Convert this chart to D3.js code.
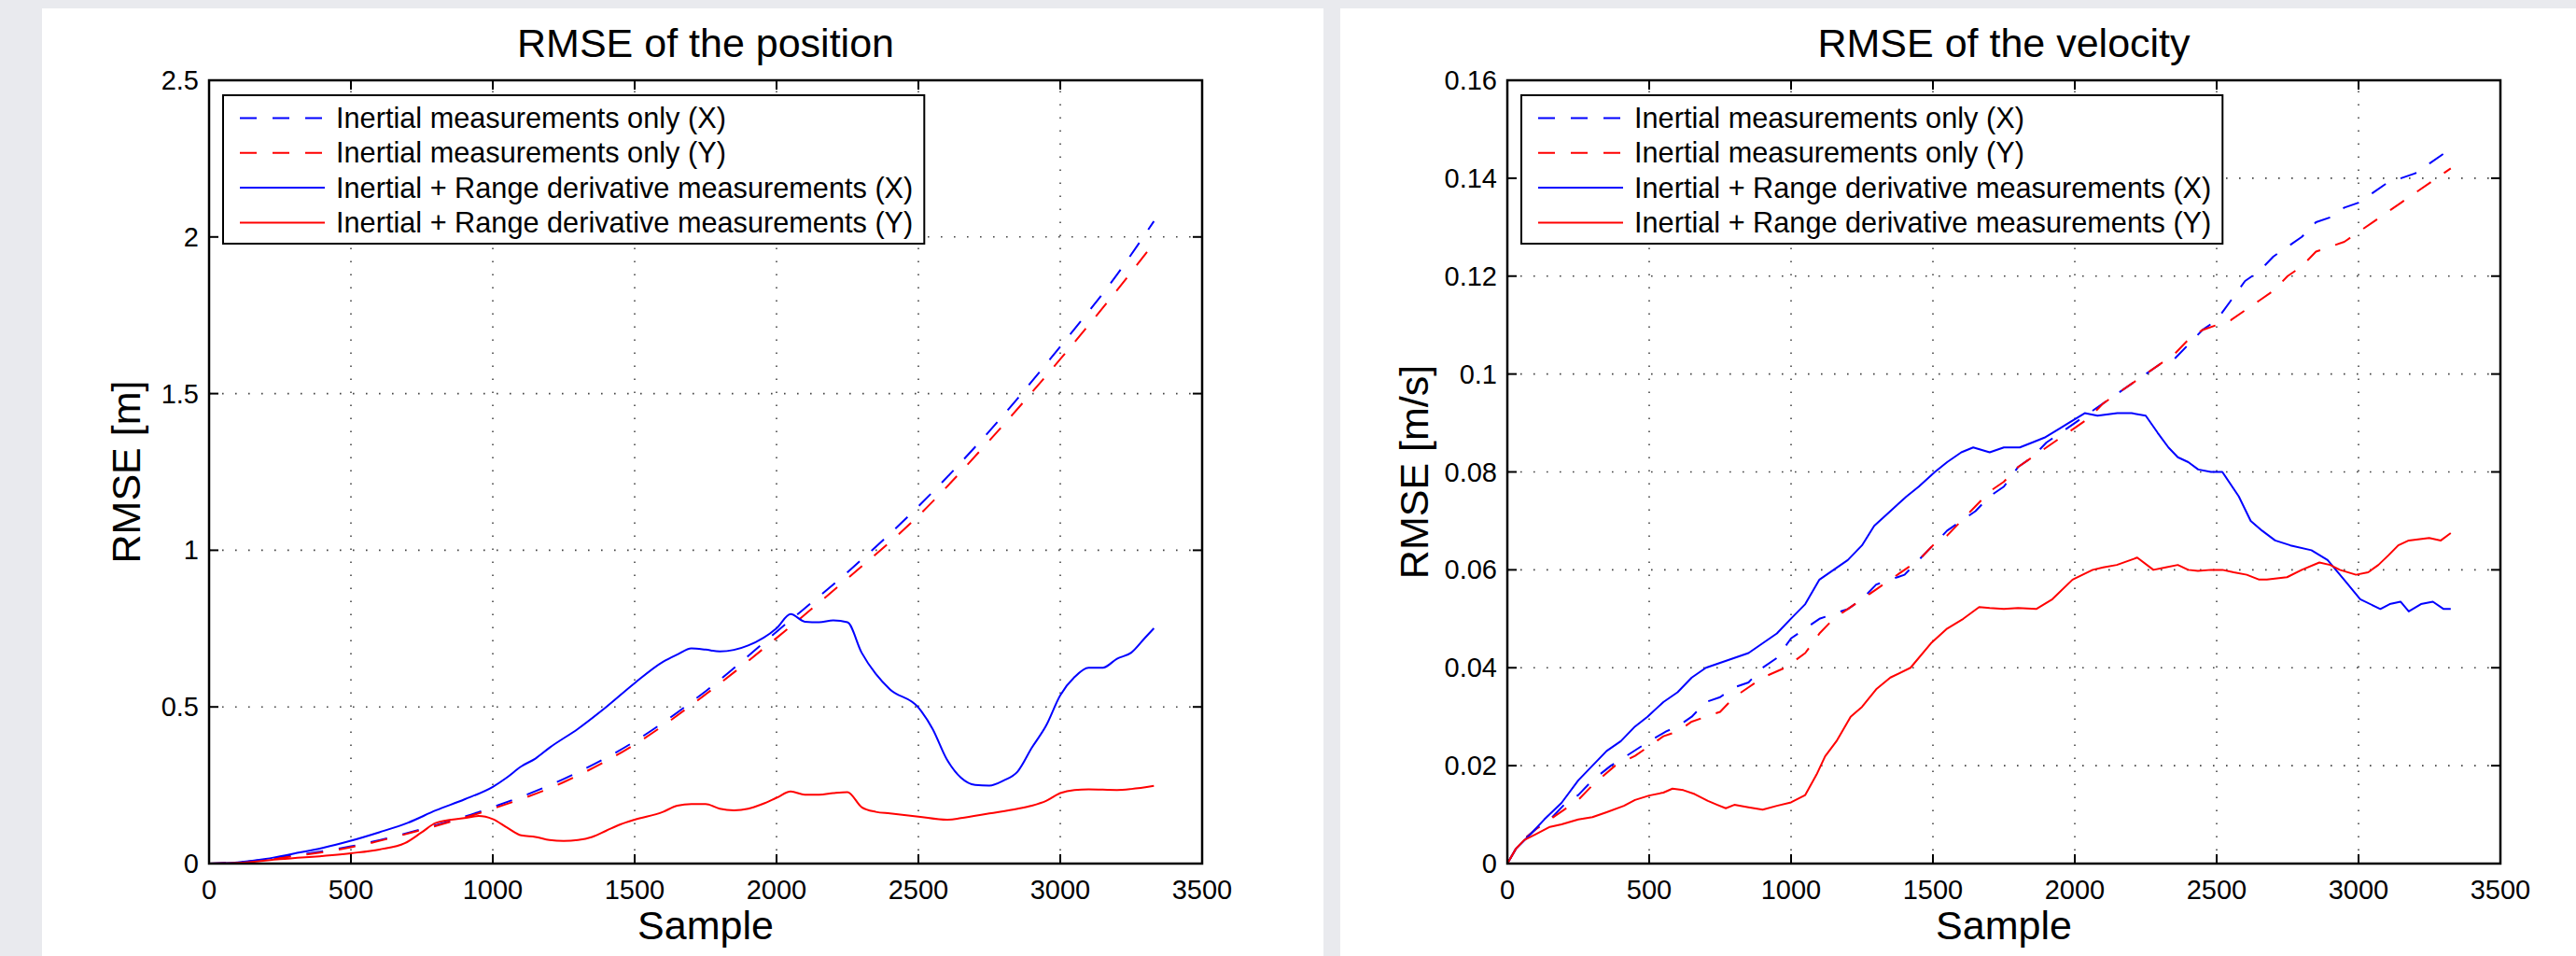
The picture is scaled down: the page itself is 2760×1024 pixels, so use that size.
<!DOCTYPE html>
<html lang="en">
<head>
  <meta charset="utf-8">
  <title>RMSE of position and velocity</title>
  <script src="https://d3js.org/d3.v7.min.js"></script>
  <style>
    html, body {
      margin: 0;
      padding: 0;
      background: #e9eaee;
      font-family: "Liberation Sans", Arial, Helvetica, sans-serif;
    }
    svg { display: block; }
    .frame { fill: none; stroke: #000; stroke-width: 2.5; }
    .grid line { stroke: #444; stroke-width: 1.6; stroke-dasharray: 1.6 12.4; }
    .tick-mark { stroke: #000; stroke-width: 2; }
    .tick-label { font-size: 29px; fill: #000; }
    .title, .axis-label { font-size: 43px; fill: #000; }
    .legend-box { fill: #fff; stroke: #000; stroke-width: 2; }
    .legend-text { font-size: 30.7px; fill: #000; }
    .series { fill: none; stroke-width: 2; stroke-linejoin: round; }
  </style>
</head>
<body>
<svg id="chart" width="2760" height="1024"></svg>
<script>
// ---- data ----
const xTicks = [0, 500, 1000, 1500, 2000, 2500, 3000, 3500];
const xTickLabels = ['0', '500', '1000', '1500', '2000', '2500', '3000', '3500'];

const posTicks = [0, 0.5, 1, 1.5, 2, 2.5];
const posTickLabels = ['0', '0.5', '1', '1.5', '2', '2.5'];
const velTicks = [0, 0.02, 0.04, 0.06, 0.08, 0.1, 0.12, 0.14, 0.16];
const velTickLabels = ['0', '0.02', '0.04', '0.06', '0.08', '0.1', '0.12', '0.14', '0.16'];

const legendLabels = [
  'Inertial measurements only (X)',
  'Inertial measurements only (Y)',
  'Inertial + Range derivative measurements (X)',
  'Inertial + Range derivative measurements (Y)'
];

// position RMSE [m] : [sample, value]
const posInertialX = [[0,0],[100,0.003],[250,0.02],[500,0.055],[750,0.11],[1000,0.18],[1250,0.27],[1500,0.39],
  [1750,0.55],[2000,0.74],[2250,0.93],[2500,1.14],[2750,1.38],[3000,1.65],[3200,1.88],[3330,2.05]];
const posInertialY = [[0,0],[100,0.003],[250,0.018],[500,0.052],[750,0.108],[1000,0.175],[1250,0.26],[1500,0.38],
  [1750,0.54],[2000,0.72],[2250,0.91],[2500,1.11],[2750,1.35],[3000,1.61],[3200,1.83],[3330,1.98]];
const posRangeX = [[0,0],[100,0.004],[200,0.015],[300,0.032],[400,0.05],[500,0.073],[600,0.1],[700,0.13],
  [800,0.17],[900,0.205],[1000,0.245],[1050,0.275],[1100,0.31],[1150,0.335],[1200,0.37],
  [1300,0.43],[1400,0.5],[1500,0.576],[1600,0.644],[1650,0.667],[1700,0.687],[1750,0.683],[1800,0.677],
  [1900,0.696],[2000,0.751],[2050,0.796],[2100,0.772],[2150,0.77],[2200,0.776],[2250,0.77],[2300,0.673],
  [2350,0.605],[2400,0.556],[2500,0.498],[2550,0.43],[2600,0.333],[2650,0.274],[2700,0.251],[2750,0.249],
  [2800,0.265],[2850,0.294],[2900,0.37],[2950,0.44],[3000,0.537],[3050,0.595],[3100,0.625],[3150,0.625],
  [3200,0.654],[3250,0.673],[3300,0.722],[3330,0.751]];
const posRangeY = [[0,0],[100,0.002],[250,0.014],[500,0.033],[600,0.045],[690,0.065],[750,0.1],[800,0.13],
  [900,0.145],[950,0.152],[1000,0.142],[1050,0.115],[1100,0.09],[1150,0.085],[1200,0.075],[1250,0.072],
  [1300,0.075],[1350,0.085],[1400,0.105],[1450,0.125],[1500,0.14],[1600,0.165],[1650,0.185],[1700,0.19],
  [1750,0.19],[1800,0.175],[1850,0.17],[1900,0.175],[1950,0.19],[2000,0.21],[2050,0.23],[2100,0.22],
  [2150,0.22],[2200,0.225],[2250,0.228],[2300,0.18],[2350,0.165],[2400,0.16],[2500,0.15],[2600,0.14],
  [2650,0.145],[2750,0.16],[2850,0.175],[2900,0.185],[2950,0.2],[3000,0.225],[3050,0.235],[3100,0.237],
  [3200,0.235],[3250,0.238],[3330,0.248]];

// velocity RMSE [m/s] : [sample, value]
const velInertialX = [[0,0],[30,0.003],[60,0.005],[100,0.007],[150,0.009],[200,0.012],[250,0.014],[300,0.017],
  [365,0.02],[420,0.022],[500,0.025],[560,0.027],[600,0.028],[650,0.03],[700,0.033],[750,0.034],[800,0.036],
  [850,0.037],[900,0.04],[950,0.042],[1000,0.046],[1050,0.048],[1100,0.05],[1150,0.051],[1200,0.052],
  [1250,0.054],[1300,0.057],[1350,0.058],[1400,0.059],[1450,0.062],[1500,0.065],[1550,0.068],[1600,0.07],
  [1650,0.072],[1700,0.075],[1750,0.077],[1800,0.081],[1850,0.083],[1900,0.086],[1950,0.088],[2000,0.09],
  [2050,0.092],[2100,0.094],[2150,0.096],[2200,0.098],[2250,0.1],[2300,0.102],[2350,0.103],[2400,0.106],
  [2450,0.109],[2500,0.111],[2550,0.115],[2600,0.119],[2650,0.121],[2700,0.124],[2750,0.126],[2800,0.128],
  [2850,0.131],[2900,0.132],[2950,0.134],[3000,0.135],[3050,0.137],[3100,0.139],[3150,0.14],[3200,0.141],
  [3250,0.143],[3300,0.145],[3325,0.1475]];
const velInertialY = [[0,0],[30,0.003],[60,0.005],[100,0.007],[150,0.009],[200,0.011],[250,0.013],[300,0.016],
  [380,0.02],[450,0.022],[500,0.024],[550,0.026],[600,0.027],[650,0.029],[700,0.03],[750,0.031],[800,0.034],
  [850,0.036],[900,0.038],[979,0.04],[1050,0.043],[1100,0.047],[1150,0.05],[1200,0.052],[1250,0.054],
  [1300,0.056],[1350,0.058],[1400,0.06],[1450,0.062],[1500,0.065],[1550,0.067],[1600,0.07],[1650,0.073],
  [1700,0.076],[1750,0.078],[1800,0.081],[1850,0.083],[1900,0.085],[1950,0.087],[2000,0.089],[2050,0.091],
  [2100,0.094],[2150,0.096],[2200,0.098],[2250,0.1],[2300,0.102],[2350,0.104],[2400,0.107],[2450,0.109],
  [2500,0.11],[2550,0.111],[2600,0.113],[2650,0.115],[2700,0.117],[2750,0.12],[2800,0.122],[2850,0.125],
  [2900,0.126],[2950,0.127],[3000,0.129],[3050,0.131],[3100,0.133],[3150,0.135],[3200,0.137],[3250,0.139],
  [3300,0.141],[3325,0.142]];
const velRangeX = [[0,0],[30,0.003],[82,0.006],[130,0.009],[191,0.0124],[250,0.017],[300,0.02],[350,0.023],
  [400,0.025],[450,0.028],[494,0.03],[550,0.033],[600,0.035],[650,0.038],[700,0.04],[750,0.041],[800,0.042],
  [850,0.043],[900,0.045],[950,0.047],[999,0.05],[1050,0.053],[1100,0.058],[1150,0.06],[1200,0.062],
  [1250,0.065],[1293,0.069],[1350,0.072],[1407,0.075],[1450,0.077],[1507,0.08],[1550,0.082],[1600,0.084],
  [1642,0.085],[1700,0.084],[1750,0.085],[1806,0.085],[1850,0.086],[1893,0.087],[1950,0.089],[1978,0.09],
  [2035,0.092],[2080,0.0915],[2150,0.092],[2200,0.092],[2250,0.0915],[2292,0.088],[2330,0.085],[2363,0.083],
  [2400,0.082],[2435,0.0805],[2480,0.08],[2520,0.08],[2578,0.075],[2620,0.07],[2660,0.068],[2706,0.066],
  [2760,0.065],[2834,0.064],[2891,0.062],[2949,0.058],[3006,0.054],[3077,0.052],[3110,0.053],[3148,0.0535],
  [3177,0.0515],[3220,0.053],[3262,0.0535],[3300,0.052],[3325,0.052]];
const velRangeY = [[0,0],[30,0.003],[59,0.0048],[100,0.006],[150,0.0075],[191,0.008],[250,0.009],[300,0.0095],
  [350,0.0105],[411,0.0118],[450,0.013],[500,0.0139],[550,0.0145],[582,0.0153],[620,0.015],[660,0.0142],
  [707,0.0128],[740,0.012],[770,0.0113],[800,0.012],[850,0.0115],[900,0.011],[950,0.0118],[1000,0.0125],
  [1050,0.014],[1090,0.0182],[1120,0.0219],[1160,0.025],[1210,0.03],[1250,0.032],[1300,0.0356],[1350,0.038],
  [1421,0.04],[1493,0.045],[1550,0.048],[1607,0.05],[1663,0.0524],[1700,0.0522],[1750,0.052],[1800,0.0522],
  [1864,0.052],[1921,0.054],[1992,0.058],[2063,0.06],[2100,0.0605],[2148,0.061],[2220,0.0625],[2277,0.06],
  [2320,0.0605],[2363,0.061],[2400,0.06],[2434,0.0598],[2480,0.06],[2520,0.06],[2560,0.0595],[2606,0.059],
  [2650,0.058],[2677,0.058],[2748,0.0585],[2800,0.06],[2862,0.0615],[2900,0.061],[2934,0.06],[2991,0.059],
  [3034,0.0595],[3070,0.061],[3106,0.063],[3140,0.065],[3177,0.066],[3249,0.0665],[3290,0.066],[3325,0.0675]];

const seriesStyles = [
  { color: '#0000ff', dash: '18 17' },
  { color: '#ff0000', dash: '18 17' },
  { color: '#0000ff', dash: null },
  { color: '#ff0000', dash: null }
];

const svg = d3.select('#chart');

function drawPanel(cfg) {
  // white figure background
  svg.append('rect')
    .attr('x', cfg.panel[0]).attr('y', 9)
    .attr('width', cfg.panel[1] - cfg.panel[0]).attr('height', 1024 - 9)
    .attr('fill', '#fff');

  const left = cfg.plotLeft, right = left + 1064, top = 86, bottom = 925;
  const x = d3.scaleLinear().domain([0, 3500]).range([left, right]);
  const y = d3.scaleLinear().domain(cfg.yDomain).range([bottom, top]);
  const g = svg.append('g');

  // dotted grid
  const grid = g.append('g').attr('class', 'grid');
  grid.selectAll('.gx').data(xTicks.slice(1, -1)).enter().append('line')
    .attr('x1', d => x(d)).attr('x2', d => x(d)).attr('y1', bottom).attr('y2', top);
  grid.selectAll('.gy').data(cfg.yTicks.slice(1, -1)).enter().append('line')
    .attr('x1', left).attr('x2', right).attr('y1', d => y(d)).attr('y2', d => y(d));

  // series
  const line = d3.line().x(d => x(d[0])).y(d => y(d[1])).curve(cfg.curve);
  cfg.series.forEach((s, i) => {
    g.append('path').datum(s)
      .attr('class', 'series')
      .attr('stroke', seriesStyles[i].color)
      .attr('stroke-dasharray', seriesStyles[i].dash)
      .attr('d', line);
  });

  // inner ticks on all four sides
  const tl = 10;
  xTicks.forEach(t => {
    g.append('line').attr('class', 'tick-mark').attr('x1', x(t)).attr('x2', x(t)).attr('y1', bottom).attr('y2', bottom - tl);
    g.append('line').attr('class', 'tick-mark').attr('x1', x(t)).attr('x2', x(t)).attr('y1', top).attr('y2', top + tl);
  });
  cfg.yTicks.forEach(t => {
    g.append('line').attr('class', 'tick-mark').attr('x1', left).attr('x2', left + tl).attr('y1', y(t)).attr('y2', y(t));
    g.append('line').attr('class', 'tick-mark').attr('x1', right).attr('x2', right - tl).attr('y1', y(t)).attr('y2', y(t));
  });

  g.append('rect').attr('class', 'frame')
    .attr('x', left).attr('y', top).attr('width', right - left).attr('height', bottom - top);

  // tick labels
  g.selectAll('.xl').data(xTicks).enter().append('text')
    .attr('class', 'tick-label')
    .attr('x', d => x(d)).attr('y', 963)
    .attr('text-anchor', 'middle')
    .text((d, i) => xTickLabels[i]);
  g.selectAll('.yl').data(cfg.yTicks).enter().append('text')
    .attr('class', 'tick-label')
    .attr('x', left - 11).attr('y', d => y(d) + 10)
    .attr('text-anchor', 'end')
    .text((d, i) => cfg.yTickLabels[i]);

  // title and axis labels
  g.append('text').attr('class', 'title')
    .attr('x', (left + right) / 2).attr('y', 61)
    .attr('text-anchor', 'middle').text(cfg.title);
  g.append('text').attr('class', 'axis-label')
    .attr('x', (left + right) / 2).attr('y', 1006)
    .attr('text-anchor', 'middle').text('Sample');
  g.append('text').attr('class', 'axis-label')
    .attr('transform', `translate(${cfg.yLabelX},${(top + bottom) / 2}) rotate(-90)`)
    .attr('text-anchor', 'middle').text(cfg.yLabel);

  // legend
  const lx = left + 15, ly = 102, rowH = 37.3;
  const leg = g.append('g');
  const box = leg.append('rect').attr('class', 'legend-box')
    .attr('x', lx).attr('y', ly).attr('height', 159);
  let maxW = 0;
  legendLabels.forEach((lab, i) => {
    const cy = ly + 24.5 + i * rowH;
    leg.append('line')
      .attr('x1', lx + 18).attr('x2', lx + 109).attr('y1', cy).attr('y2', cy)
      .attr('stroke', seriesStyles[i].color).attr('stroke-width', 2)
      .attr('stroke-dasharray', seriesStyles[i].dash);
    const t = leg.append('text').attr('class', 'legend-text')
      .attr('x', lx + 121).attr('y', cy + 10.5).text(lab);
    maxW = Math.max(maxW, t.node().getComputedTextLength());
  });
  box.attr('width', 121 + maxW + 12);
}

drawPanel({
  panel: [45, 1418], plotLeft: 224, yDomain: [0, 2.5],
  yTicks: posTicks, yTickLabels: posTickLabels,
  title: 'RMSE of the position', yLabel: 'RMSE [m]', yLabelX: 150,
  series: [posInertialX, posInertialY, posRangeX, posRangeY],
  curve: d3.curveMonotoneX
});
drawPanel({
  panel: [1436, 2760], plotLeft: 1615, yDomain: [0, 0.16],
  yTicks: velTicks, yTickLabels: velTickLabels,
  title: 'RMSE of the velocity', yLabel: 'RMSE [m/s]', yLabelX: 1530,
  series: [velInertialX, velInertialY, velRangeX, velRangeY],
  curve: d3.curveLinear
});
</script>
</body>
</html>
